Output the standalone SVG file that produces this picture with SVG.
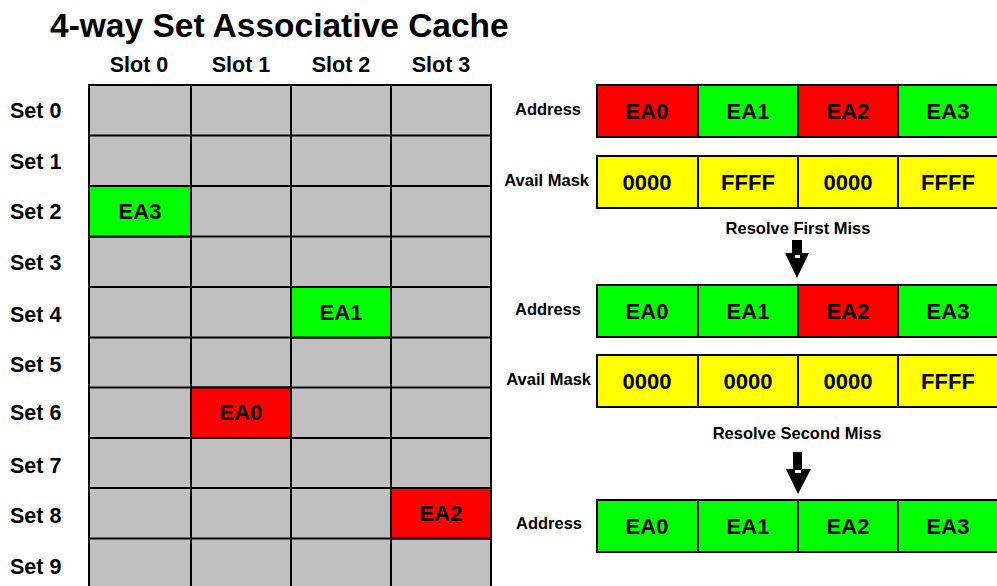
<svg xmlns="http://www.w3.org/2000/svg" width="997" height="586" viewBox="0 0 997 586">
  <style>
    text { font-family: "Liberation Sans", Arial, sans-serif; font-weight: bold; fill: #000; }
    .title { font-size: 33.5px; }
    .hdr { font-size: 21.5px; text-anchor: middle; }
    .row { font-size: 21.5px; }
    .cell text { font-size: 22px; text-anchor: middle; dominant-baseline: central; }
    .cell text.lbl { font-size: 16.5px; text-anchor: end; dominant-baseline: central; }
    .step { font-size: 16.5px; text-anchor: middle; }
    rect { stroke: #000; stroke-width: 2; }
    rect.bg { fill: #fff; stroke: none; }
    rect.notch { fill: #fff; stroke: none; }
    .g { fill: #C0C0C0; }
    .ok { fill: #00FF00; }
    .miss { fill: #FF0000; }
    .mask { fill: #FFFF00; }
  </style>

  <rect class="bg" x="0" y="0" width="997" height="586"/>

  <text class="title" x="50" y="37">4-way Set Associative Cache</text>

  <!-- column headers -->
  <g id="slot-headers">
    <text class="hdr" x="139" y="72">Slot 0</text>
    <text class="hdr" x="241" y="72">Slot 1</text>
    <text class="hdr" x="341" y="72">Slot 2</text>
    <text class="hdr" x="441" y="72">Slot 3</text>
  </g>

  <!-- row headers -->
  <g id="set-headers">
    <text class="row" x="10" y="118">Set 0</text>
    <text class="row" x="10" y="169">Set 1</text>
    <text class="row" x="10" y="219">Set 2</text>
    <text class="row" x="10" y="270">Set 3</text>
    <text class="row" x="10" y="322">Set 4</text>
    <text class="row" x="10" y="372">Set 5</text>
    <text class="row" x="10" y="420">Set 6</text>
    <text class="row" x="10" y="473">Set 7</text>
    <text class="row" x="10" y="523">Set 8</text>
    <text class="row" x="10" y="574">Set 9</text>
  </g>

  <!-- cache grid: 10 sets x 4 slots -->
  <g id="cache-grid" class="cell">
    <g id="grid-bg">
      <rect class="g" x="89" y="85" width="402" height="506"/>
    </g>
    <g id="grid-lines" stroke="#000" stroke-width="2">
      <line x1="191" y1="85" x2="191" y2="590"/>
      <line x1="291" y1="85" x2="291" y2="590"/>
      <line x1="391" y1="85" x2="391" y2="590"/>
      <line x1="89" y1="135.5" x2="491" y2="135.5"/>
      <line x1="89" y1="186" x2="491" y2="186"/>
      <line x1="89" y1="236.5" x2="491" y2="236.5"/>
      <line x1="89" y1="287" x2="491" y2="287"/>
      <line x1="89" y1="337.5" x2="491" y2="337.5"/>
      <line x1="89" y1="387.5" x2="491" y2="387.5"/>
      <line x1="89" y1="438" x2="491" y2="438"/>
      <line x1="89" y1="488" x2="491" y2="488"/>
      <line x1="89" y1="538.5" x2="491" y2="538.5"/>
    </g>
    <g id="set2-slot0"><rect class="ok" x="89" y="186" width="102" height="50.5"/><text x="140" y="211">EA3</text></g>
    <g id="set4-slot2"><rect class="ok" x="291" y="287" width="100" height="50.5"/><text x="341" y="312">EA1</text></g>
    <g id="set6-slot1"><rect class="miss" x="191" y="387.5" width="100" height="50.5"/><text x="241" y="412">EA0</text></g>
    <g id="set8-slot3"><rect class="miss" x="391" y="488" width="100" height="50.5"/><text x="441" y="513">EA2</text></g>
  </g>

  <!-- state 1 -->
  <g id="address-1" class="cell">
    <text class="lbl" x="581" y="109">Address</text>
    <rect class="miss" x="597" y="85" width="101" height="52"/><text x="647" y="111">EA0</text>
    <rect class="ok" x="698" y="85" width="100" height="52"/><text x="748" y="111">EA1</text>
    <rect class="miss" x="798" y="85" width="100" height="52"/><text x="848" y="111">EA2</text>
    <rect class="ok" x="898" y="85" width="101" height="52"/><text x="948" y="111">EA3</text>
  </g>
  <g id="mask-1" class="cell">
    <text class="lbl" x="589" y="180">Avail Mask</text>
    <rect class="mask" x="597" y="156" width="101" height="52"/><text x="647" y="182">0000</text>
    <rect class="mask" x="698" y="156" width="100" height="52"/><text x="748" y="182">FFFF</text>
    <rect class="mask" x="798" y="156" width="100" height="52"/><text x="848" y="182">0000</text>
    <rect class="mask" x="898" y="156" width="101" height="52"/><text x="948" y="182">FFFF</text>
  </g>

  <!-- state 2 -->
  <g id="address-2" class="cell">
    <text class="lbl" x="581" y="309">Address</text>
    <rect class="ok" x="597" y="285" width="101" height="52"/><text x="647" y="311">EA0</text>
    <rect class="ok" x="698" y="285" width="100" height="52"/><text x="748" y="311">EA1</text>
    <rect class="miss" x="798" y="285" width="100" height="52"/><text x="848" y="311">EA2</text>
    <rect class="ok" x="898" y="285" width="101" height="52"/><text x="948" y="311">EA3</text>
  </g>
  <g id="mask-2" class="cell">
    <text class="lbl" x="591" y="379">Avail Mask</text>
    <rect class="mask" x="597" y="355" width="101" height="52"/><text x="647" y="381">0000</text>
    <rect class="mask" x="698" y="355" width="100" height="52"/><text x="748" y="381">0000</text>
    <rect class="mask" x="798" y="355" width="100" height="52"/><text x="848" y="381">0000</text>
    <rect class="mask" x="898" y="355" width="101" height="52"/><text x="948" y="381">FFFF</text>
  </g>

  <!-- state 3 -->
  <g id="address-3" class="cell">
    <text class="lbl" x="582" y="523">Address</text>
    <rect class="ok" x="597" y="500" width="101" height="52"/><text x="647" y="526">EA0</text>
    <rect class="ok" x="698" y="500" width="100" height="52"/><text x="748" y="526">EA1</text>
    <rect class="ok" x="798" y="500" width="100" height="52"/><text x="848" y="526">EA2</text>
    <rect class="ok" x="898" y="500" width="101" height="52"/><text x="948" y="526">EA3</text>
  </g>

  <!-- transitions -->
  <g id="connectors">
    <g id="step-1">
      <text class="step" x="798" y="234">Resolve First Miss</text>
      <polygon points="792,240 802,240 802,253 809,253 797,278 785,253 792,253" fill="#000"/>
      <rect class="notch" x="795" y="255" width="5" height="3"/>
    </g>
    <g id="step-2">
      <text class="step" x="797" y="439">Resolve Second Miss</text>
      <polygon points="793,452 802,452 802,469 811,469 798,494 786,469 793,469" fill="#000"/>
      <rect class="notch" x="795" y="470" width="6" height="3"/>
    </g>
  </g>
</svg>
